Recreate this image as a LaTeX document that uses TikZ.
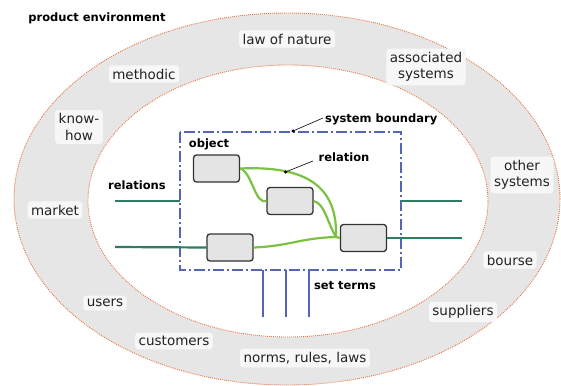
\documentclass[tikz,border=0pt]{standalone}
\usepackage{fontspec}
\setmainfont{DejaVu Sans}
\usetikzlibrary{calc}
\definecolor{ringgray}{HTML}{E6E6E6}
\definecolor{dotorange}{HTML}{E8703F}
\definecolor{labelbg}{HTML}{F7F7F7}
\definecolor{txt}{HTML}{222222}
\definecolor{sysblue}{HTML}{5565B8}
\definecolor{relgreen}{HTML}{7CC242}
\definecolor{darkgreen}{HTML}{2E7D5E}
\definecolor{boxgray}{HTML}{E4E4E4}
\definecolor{boxborder}{HTML}{333333}
\tikzset{
  envlabel/.style={fill=labelbg, rounded corners=3pt, inner sep=3.5pt, text=txt, align=center,
    font=\fontsize{13.5}{16.5}\selectfont},
  boldlabel/.style={inner sep=0pt, text=black, font=\fontsize{11.5}{13}\selectfont\bfseries},
  objbox/.style={draw=boxborder, fill=boxgray, line width=1.3pt, rounded corners=3pt,
    minimum width=46pt, minimum height=27pt, inner sep=0pt},
  relline/.style={draw=relgreen, line width=2.2pt},
  extline/.style={draw=darkgreen, line width=2.2pt},
  boundary/.style={draw=sysblue, line width=2.2pt, dash pattern=on 11pt off 3pt on 2pt off 3pt},
  termline/.style={draw=sysblue, line width=2.5pt},
  leader/.style={draw=black, line width=0.6pt},
  leaderdot/.style={circle, fill=black, inner sep=0pt, minimum size=3.5pt},
  ellborder/.style={draw=dotorange, line width=0.9pt, dash pattern=on 0.9pt off 1.1pt}
}
\begin{document}
\begin{tikzpicture}[x=1pt,y=-1pt]
\useasboundingbox (0,0) rectangle (561,385);
% rings
\fill[ringgray] (287,199) ellipse [x radius=273pt, y radius=186pt];
\path[ellborder] (287,199) ellipse [x radius=273pt, y radius=186pt];
\fill[white] (288,201) ellipse [x radius=200pt, y radius=136pt];
\path[ellborder] (288,201) ellipse [x radius=200pt, y radius=136pt];

% environment labels
\node[envlabel] (law) at (287,39) {law of nature};
\node[envlabel] (meth) at (144,74) {methodic};
\node[envlabel] (assoc) at (426,67) {associated\\systems};
\node[envlabel] (know) at (79,127) {know-\\how};
\node[envlabel] (other) at (522,175) {other\\systems};
\node[envlabel] (market) at (55,210) {market};
\node[envlabel] (bourse) at (510,260) {bourse};
\node[envlabel] (users) at (105,303) {users};
\node[envlabel] (suppl) at (463,312) {suppliers};
\node[envlabel] (cust) at (174,341) {customers};
\node[envlabel] (norms) at (305,358) {norms, rules, laws};

\node[boldlabel] (prodenv) at (97,18) {product environment};

% system boundary
\coordinate (bTL) at (180,132);
\coordinate (bBR) at (401,270);
\path[boundary] (bTL) rectangle (bBR);

% set terms
\coordinate (t1a) at (263,270); \coordinate (t1b) at (263,317);
\coordinate (t2a) at (286,270); \coordinate (t2b) at (286,317);
\coordinate (t3a) at (309,270); \coordinate (t3b) at (309,317);
\path[termline] (t1a) -- (t1b);
\path[termline] (t2a) -- (t2b);
\path[termline] (t3a) -- (t3b);

% objects
\node[objbox] (o1) at (216.5,168.5) {};
\node[objbox] (o2) at (290,201) {};
\node[objbox] (o3) at (230,247.5) {};
\node[objbox] (o4) at (363.5,238) {};

% external relations
\coordinate (l1a) at (115,201); \coordinate (l1b) at (180,201);
\coordinate (l2a) at (115,247);
\coordinate (r1a) at (401,201); \coordinate (r1b) at (462,201);
\coordinate (r2b) at (462,238);
\path[extline] (l1a) -- (l1b);
\path[extline] (l2a) -- (o3.west);
\path[extline] (r1a) -- (r1b);
\path[extline] (o4.east) -- (r2b);

% internal relations
\coordinate (m) at (336,237);
\path[relline] (o1.east) .. controls (297,166) and (338,180) .. (m) -- (o4.west);
\path[relline] (o1.east) .. controls (252,172) and (255,205) .. (o2.west);
\path[relline] (o2.east) .. controls (325,204) and (327,222) .. (m);
\path[relline] (o3.east) .. controls (290,246) and (300,238) .. (m);

% leaders
\node[leaderdot] (dsb) at (293,131) {};
\node[boldlabel, anchor=west] (sb) at (325,119) {system boundary};
\path[leader] (dsb.center) -- (323,118);
\node[leaderdot] (drel) at (285.5,172) {};
\node[boldlabel] (rel) at (344,157) {relation};
\path[leader] (drel.center) -- (313,161);

\node[boldlabel] (obj) at (209,144) {object};
\node[boldlabel] (rels) at (137,185) {relations};
\node[boldlabel] (terms) at (345,286) {set terms};
\end{tikzpicture}
\end{document}
